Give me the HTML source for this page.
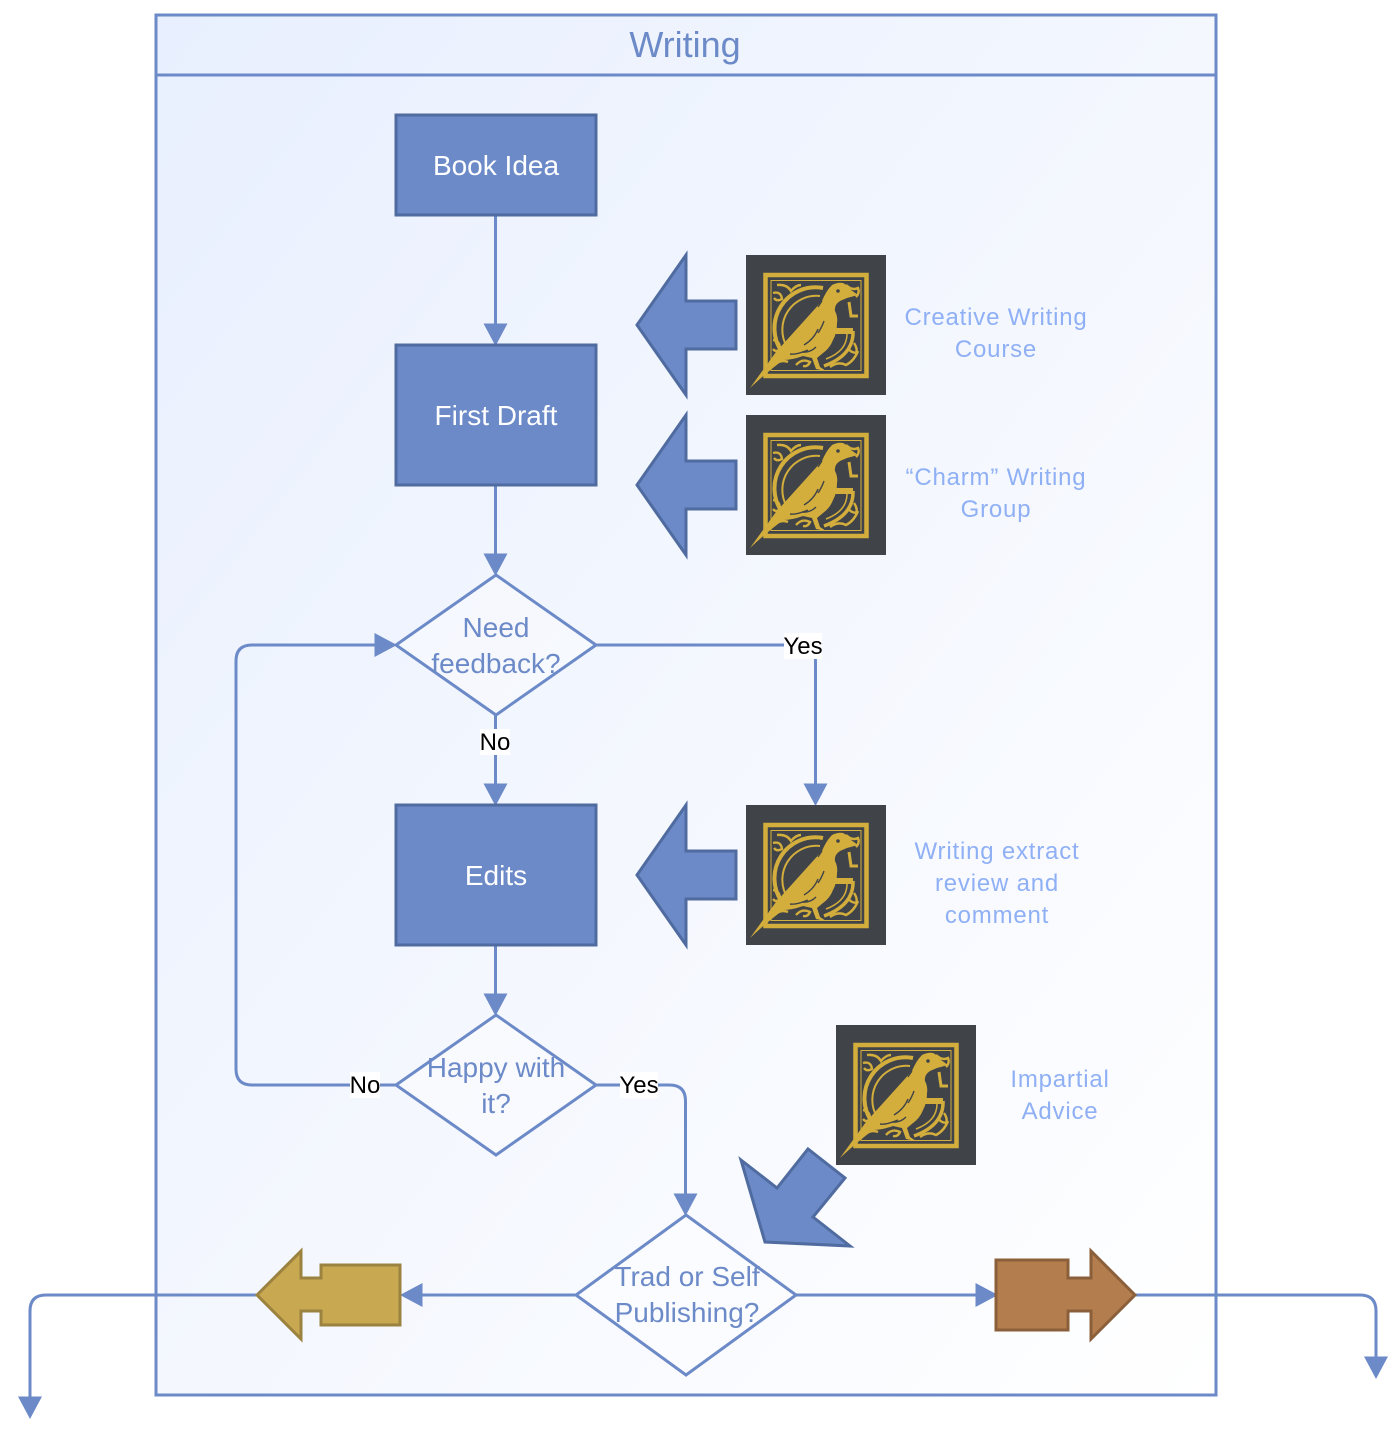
<!DOCTYPE html>
<html>
<head>
<meta charset="utf-8">
<style>
html,body{margin:0;padding:0;background:#fff;width:1396px;height:1434px;overflow:hidden}
svg{display:block}
text{font-family:"Liberation Sans",sans-serif;text-anchor:middle}
.n{font-size:28px;fill:#fff}
.d{font-size:28px;fill:#6c8ac8}
.s{font-size:24px;fill:#8fb0f5;letter-spacing:.8px}
.e{font-size:24px;fill:#000}
.l{fill:none;stroke:#6c8ac8;stroke-width:3}
.box{fill:#6c8ac8;stroke:#4f6b9f;stroke-width:3}
.dm{fill:#ffffff;fill-opacity:.35;stroke:#6c8ac8;stroke-width:3}
.h{fill:#6c8ac8;stroke:none}
</style>
</head>
<body>
<svg width="1396" height="1434" viewBox="0 0 1396 1434" xmlns="http://www.w3.org/2000/svg">
<defs>
<linearGradient id="bg" x1="0" y1="0" x2="1" y2="1">
<stop offset="0" stop-color="#e8effe"/><stop offset="1" stop-color="#ffffff"/>
</linearGradient>
<g id="bird">
<rect width="140" height="140" fill="#404448"/>
<rect x="19.5" y="20" width="101" height="101" fill="none" stroke="#d4ae3c" stroke-width="4.5"/>
<rect x="25" y="25.5" width="90" height="90" fill="none" stroke="#d4ae3c" stroke-width="1"/>
<g fill="none" stroke="#d4ae3c" stroke-width="2.4">
<path d="M27 38q8-2 9 6q-5 3-8-1M31 30q10-1 14 6q5-6 10-6M27 85q7 1 7 9q-4 4-7 0M28 110q7-6 14-3M50 110q6-7 14-3q-2 5-7 4M84 112q8-6 16-2q8-4 12-14M100 30q6 6 12 3q2 5-2 9M108 88q4 6 2 10q-6-1-7-4"/>
</g>
<g fill="none" stroke="#d4ae3c">
<path d="M77 33A41 41 0 0 0 36 97" stroke-width="4"/>
<path d="M74 41A34 34 0 0 0 41 92" stroke-width="2"/>
<path d="M107 76Q108 100 78 111" stroke-width="3.5"/>
<path d="M101 79Q101 96 80 104" stroke-width="1.5"/>
<path d="M103 47L105 61H112" stroke-width="3"/>
</g>
<path d="M89 73H107V79H89Z" fill="#d4ae3c"/>
<path d="M4 133L30 97L76 46Q80 36 86 30Q92 27 97 28Q103 31 105 35L112 40L101 43L94 46Q88 50 89 56Q92 62 91 68Q91 78 87 85Q84 93 77 98L71 103L74 112L80 116L70 114L66 103L57 101Q46 105 37 105Q20 118 4 133Z" fill="#d4ae3c"/>
<path d="M72 74Q68 84 58 90M78 66Q76 72 72 78M62 95Q50 100 44 99M70 92Q64 98 56 97" fill="none" stroke="#404448" stroke-width="1.4"/>
<circle cx="92" cy="36" r="1.8" fill="#404448"/>
<path d="M76 46L72 52" stroke="#404448" stroke-width="1.2" fill="none"/>
</g>
<path id="ba" d="M637 325L686 255V301H736V349H686V395Z" fill="#6c8ac8" stroke="#4f6b9f" stroke-width="3"/>
</defs>

<rect x="156" y="15" width="1060" height="1380" fill="url(#bg)" stroke="#6c8ac8" stroke-width="3"/>
<line x1="156" y1="75" x2="1216" y2="75" stroke="#6c8ac8" stroke-width="3"/>
<text x="685" y="57" font-size="36" fill="#6c8ac8">Writing</text>

<!-- connectors -->
<path class="l" d="M495.5 215V330"/>
<path class="l" d="M495.5 485V560"/>
<path class="l" d="M596 645H799.5Q815.5 645 815.5 661V790"/>
<path class="l" d="M495.5 715V790"/>
<path class="l" d="M495.5 945V1000"/>
<path class="l" d="M396 1085H252Q236 1085 236 1069V661Q236 645 252 645H380"/>
<path class="l" d="M596 1085H669.5Q685.5 1085 685.5 1101V1200"/>
<path class="l" d="M576 1295H415"/>
<path class="l" d="M796 1295H980"/>
<path class="l" d="M256 1295H46Q30 1295 30 1311V1400"/>
<path class="l" d="M1136 1295H1360Q1376 1295 1376 1311V1360"/>

<!-- arrowheads -->
<path class="h" d="M495.5 346L483.5 323.500H507.500Z"/>
<path class="h" d="M495.500 576L483.500 553.500H507.500Z"/>
<path class="h" d="M815.500 806L803.500 783.500H827.500Z"/>
<path class="h" d="M495.500 806L483.500 783.500H507.500Z"/>
<path class="h" d="M495.500 1016L483.500 993.500H507.500Z"/>
<path class="h" d="M397 645L374.500 633V657Z"/>
<path class="h" d="M685.500 1216L673.500 1193.500H697.500Z"/>
<path class="h" d="M400 1295L422.500 1283V1307Z"/>
<path class="h" d="M998 1295L975.500 1283V1307Z"/>
<path class="h" d="M30 1419L18 1396.500H42Z"/>
<path class="h" d="M1376 1379L1364 1356.500H1388Z"/>

<!-- nodes -->
<rect class="box" x="396" y="115" width="200" height="100"/>
<text class="n" x="496" y="175">Book Idea</text>
<rect class="box" x="396" y="345" width="200" height="140"/>
<text class="n" x="496" y="425">First Draft</text>
<rect class="box" x="396" y="805" width="200" height="140"/>
<text class="n" x="496" y="885">Edits</text>

<path class="dm" d="M496 575L596 645L496 715L396 645Z"/>
<text class="d" x="496" y="637">Need</text>
<text class="d" x="496" y="673">feedback?</text>

<path class="dm" d="M496 1015L596 1085L496 1155L396 1085Z"/>
<text class="d" x="496" y="1077">Happy with</text>
<text class="d" x="496" y="1113">it?</text>

<path class="dm" d="M686 1215L796 1295L686 1375L576 1295Z"/>
<text class="d" x="687" y="1286">Trad or Self</text>
<text class="d" x="687" y="1322">Publishing?</text>

<!-- edge labels -->
<rect x="784" y="633" width="38" height="26" fill="#fff"/>
<text class="e" x="803" y="654">Yes</text>
<rect x="480" y="729" width="30" height="26" fill="#fff"/>
<text class="e" x="495" y="750">No</text>
<rect x="350" y="1072" width="30" height="26" fill="#fff"/>
<text class="e" x="365" y="1093">No</text>
<rect x="620" y="1072" width="38" height="26" fill="#fff"/>
<text class="e" x="639" y="1093">Yes</text>

<!-- block arrows -->
<use href="#ba"/>
<use href="#ba" y="160"/>
<use href="#ba" y="550"/>
<path d="M741 1160L777 1188L808 1149L845 1178L813 1217L850 1246L765 1242Z" fill="#6c8ac8" stroke="#4f6b9f" stroke-width="3"/>
<path d="M257 1295L301 1251V1278H321V1265H400V1325H321V1311H301V1339Z" fill="#c8a951" stroke="#9c8240" stroke-width="3"/>
<path d="M996 1260H1068V1278H1091V1251L1135 1295L1091 1339V1311H1068V1330H996Z" fill="#b37d4e" stroke="#8a5f3a" stroke-width="3"/>

<!-- icons -->
<use href="#bird" x="746" y="255"/>
<use href="#bird" x="746" y="415"/>
<use href="#bird" x="746" y="805"/>
<use href="#bird" x="836" y="1025"/>

<!-- side labels -->
<text class="s" x="996" y="325">Creative Writing</text>
<text class="s" x="996" y="357">Course</text>
<text class="s" x="996" y="485">“Charm” Writing</text>
<text class="s" x="996" y="517">Group</text>
<text class="s" x="997" y="859">Writing extract</text>
<text class="s" x="997" y="891">review and</text>
<text class="s" x="997" y="923">comment</text>
<text class="s" x="1060" y="1087">Impartial</text>
<text class="s" x="1060" y="1119">Advice</text>
</svg>
</body>
</html>
